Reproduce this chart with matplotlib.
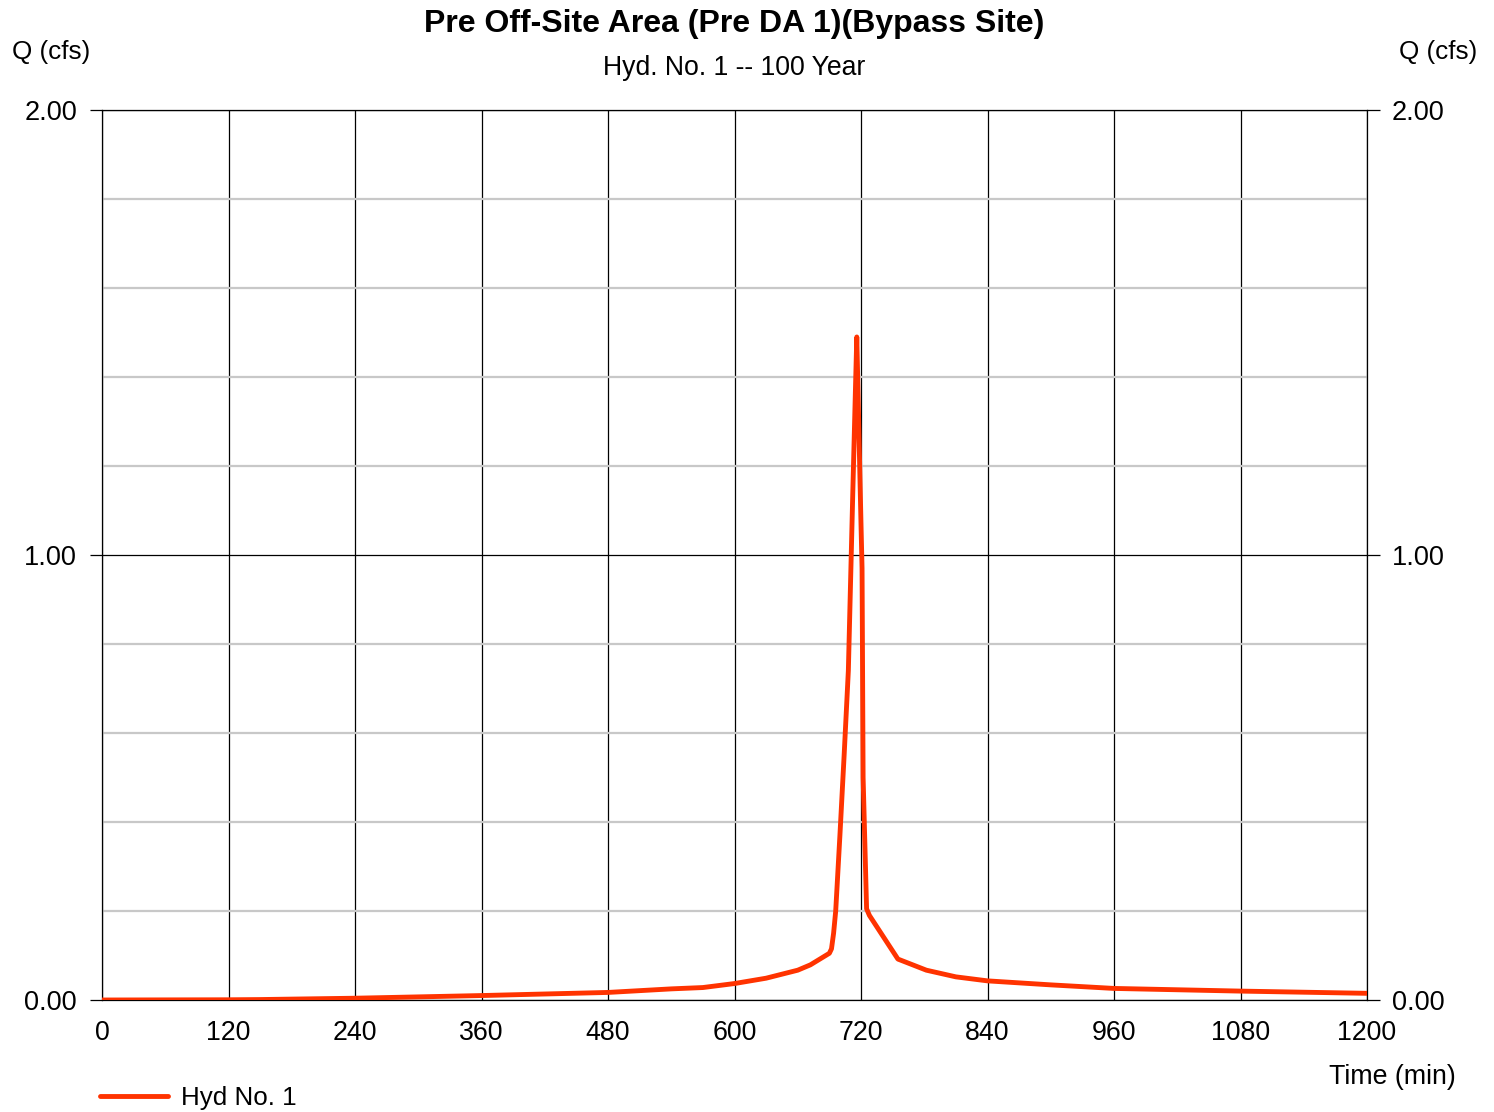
import numpy as np
import matplotlib
matplotlib.use("Agg")
import matplotlib.pyplot as plt

plt.rcParams['font.family'] = ['Liberation Sans', 'DejaVu Sans']

# Data
time_min = [0, 120, 150, 240, 360, 480, 540, 570, 600, 630, 660, 672, 690, 692,
            694, 696, 700, 704, 708, 712, 716, 718, 720, 721, 722, 725.3, 728,
            755, 782, 810, 840, 900, 960, 1080, 1200]
q_cfs = [0.0, 0.0005, 0.001, 0.004, 0.010, 0.017, 0.025, 0.028, 0.037, 0.049, 0.067, 0.079, 0.105, 0.115,
         0.15, 0.20, 0.37, 0.55, 0.74, 1.12, 1.49, 1.28, 1.07, 0.97, 0.50, 0.205, 0.19,
         0.092, 0.067, 0.052, 0.043, 0.034, 0.026, 0.020, 0.015]
x_ticks = [0, 120, 240, 360, 480, 600, 720, 840, 960, 1080, 1200]
y_ticks = [0.0, 1.0, 2.0]
y_minor = [0.2, 0.4, 0.6, 0.8, 1.2, 1.4, 1.6, 1.8]

title = "Pre Off-Site Area (Pre DA 1)(Bypass Site)"
subtitle = "Hyd. No. 1 -- 100 Year"
series_label = "Hyd No. 1"

W, H = 1494, 1112
fig = plt.figure(figsize=(W / 100, H / 100), dpi=100)
ax = fig.add_axes([102 / W, 1 - 1000 / H, 1265 / W, 890 / H])

line_color = '#FF3300'
ln, = ax.plot(time_min, q_cfs, color=line_color, lw=3.5, solid_joinstyle='round',
              solid_capstyle='round', label=series_label, zorder=5)

ax.set_xlim(0, 1200)
ax.set_ylim(0, 2)
ax.set_xticks(x_ticks)
ax.set_xticklabels([str(v) for v in x_ticks])
ax.set_yticks(y_ticks)
ax.set_yticklabels([f"{v:.2f}" for v in y_ticks])
ax.set_yticks(y_minor, minor=True)

ax.grid(which='minor', axis='y', color='#c8c8c8', lw=1.6, zorder=1)
ax.grid(which='major', axis='y', color='black', lw=0.9, zorder=2)
ax.grid(which='major', axis='x', color='black', lw=0.9, zorder=2)
ax.set_axisbelow(True)

for s in ax.spines.values():
    s.set_color('black')
    s.set_linewidth(0.9)

ax.tick_params(axis='y', which='major', left=True, right=True, labelleft=True,
               labelright=True, direction='out', length=9, width=0.9, pad=9,
               labelsize=19.5)
ax.tick_params(axis='y', which='minor', left=False, right=False)
ax.tick_params(axis='x', which='major', length=0, pad=14.5, labelsize=19.3)

fig.text(734 / W, 1 - 24 / H, title, ha='center', va='center', fontsize=23,
         fontweight='bold')
fig.text(734 / W, 1 - 68 / H, subtitle, ha='center', va='center', fontsize=19.2)
fig.text(12 / W, 1 - 52 / H, "Q (cfs)", ha='left', va='center', fontsize=18.8)
fig.text(1477 / W, 1 - 52 / H, "Q (cfs)", ha='right', va='center', fontsize=18.8)
fig.text(1456 / W, 1 - 1077 / H, "Time (min)", ha='right', va='center', fontsize=19.3)

leg = fig.legend(handles=[ln], loc='center left', bbox_to_anchor=(100 / W, 1 - 1098 / H),
                 frameon=False, fontsize=18.7, handlelength=2.6, handletextpad=0.5,
                 borderpad=0, borderaxespad=0)

fig.savefig("out.png", dpi=100)
